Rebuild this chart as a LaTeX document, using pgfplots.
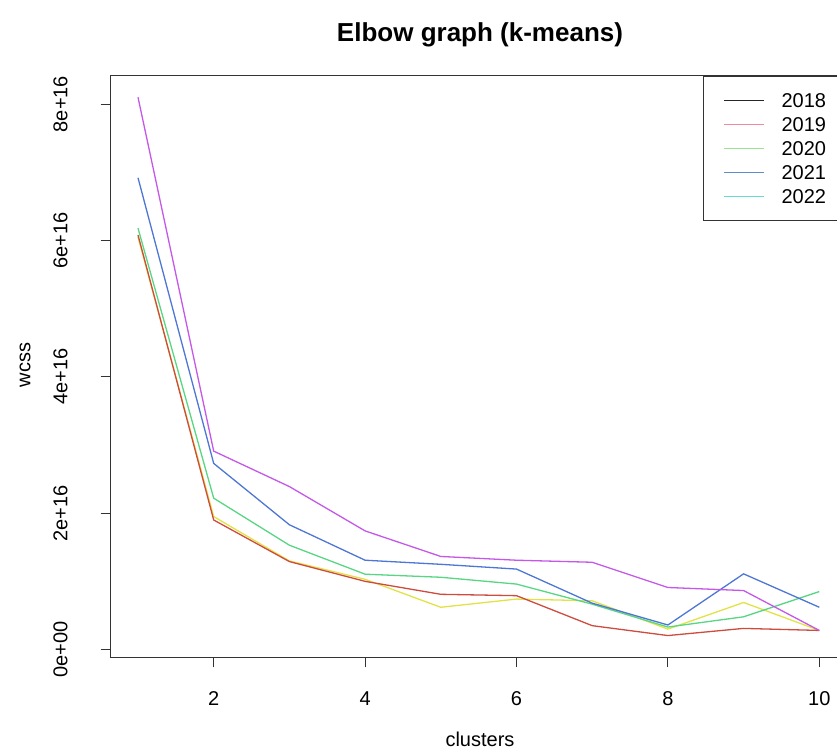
\documentclass[border=0pt]{standalone}
\usepackage{fontspec}
\setmainfont{Liberation Sans}
\usepackage{pgfplots}
\usepackage{pgfplotstable}
\pgfplotsset{compat=1.18}

% wcss in units of 1e16, one column per drawn line
\pgfplotstableread{
k  mag   blu   grn   red   yel
1  8.10  6.92  6.18  6.08  6.05
2  2.91  2.73  2.22  1.90  1.95
3  2.39  1.83  1.53  1.29  1.30
4  1.74  1.31  1.105 1.00  1.03
5  1.365 1.25  1.06  0.81  0.62
6  1.31  1.18  0.96  0.79  0.74
7  1.28  0.68  0.665 0.35  0.715
8  0.91  0.36  0.33  0.205 0.30
9  0.865 1.11  0.48  0.31  0.69
10 0.28  0.62  0.85  0.28  0.28
}\wcss

\definecolor{lmag}{RGB}{196,88,232}
\definecolor{lblu}{RGB}{78,118,212}
\definecolor{lgrn}{RGB}{88,214,132}
\definecolor{lred}{RGB}{206,76,62}
\definecolor{lyel}{RGB}{226,226,72}
\definecolor{g19}{RGB}{236,140,160}
\definecolor{g20}{RGB}{150,228,150}
\definecolor{g21}{RGB}{92,140,204}
\definecolor{g22}{RGB}{100,220,210}

\begin{document}
\begin{tikzpicture}[x=1pt,y=1pt,trim left=0pt,trim right=837pt]
\path (0,0) rectangle (837,749);
\begin{axis}[
  at={(146.3,134.3)}, anchor=south west,
  scale only axis, width=735.8pt, height=581.7pt,
  xmin=0.64, xmax=10.36, ymin=-0.116, ymax=8.416,
  axis line style={black!80, line width=1pt},
  tick style={black!80, line width=1pt},
  tick align=outside, major tick length=10pt,
  xtick pos=bottom, ytick pos=left,
  xtick={2,4,6,8,10}, ytick={0,2,4,6,8},
  yticklabels={0e+00,2e+16,4e+16,6e+16,8e+16},
  /pgf/number format/assume math mode=true,
  ticklabel style={font=\fontsize{20}{24}\selectfont, inner sep=0pt},
  xticklabel style={anchor=north},
  yticklabel style={rotate=90, anchor=south},
  xticklabel shift=24pt, yticklabel shift=33pt,
  legend image code/.code={\draw[#1] (0pt,0pt) -- (40pt,0pt);},
  legend style={at={(rel axis cs:1,1)}, anchor=north east,
    draw=black!80, line width=1pt, fill=white,
    font=\fontsize{20}{24}\selectfont,
    inner xsep=20pt, inner ysep=16.5pt, row sep=9pt, column sep=17pt,
    nodes={inner sep=0pt, text height=15pt, text depth=0pt},
    cells={anchor=west}},
]
\addlegendimage{black!85, line width=1pt}\addlegendentry{2018}
\addlegendimage{g19, line width=1pt}\addlegendentry{2019}
\addlegendimage{g20, line width=1pt}\addlegendentry{2020}
\addlegendimage{g21, line width=1pt}\addlegendentry{2021}
\addlegendimage{g22, line width=1pt}\addlegendentry{2022}
\addplot[lyel, line width=1.3pt, forget plot] table[x=k, y=yel] {\wcss};
\addplot[lred, line width=1.3pt, forget plot] table[x=k, y=red] {\wcss};
\addplot[lgrn, line width=1.3pt, forget plot] table[x=k, y=grn] {\wcss};
\addplot[lblu, line width=1.3pt, forget plot] table[x=k, y=blu] {\wcss};
\addplot[lmag, line width=1.3pt, forget plot] table[x=k, y=mag] {\wcss};
\end{axis}
\node[font=\bfseries\fontsize{26}{30}\selectfont] at (480,714) {Elbow graph (k-means)};
\node[font=\fontsize{20}{24}\selectfont] at (480,10) {clusters};
\node[rotate=90, font=\fontsize{20}{24}\selectfont] at (25,384) {wcss};
\end{tikzpicture}
\end{document}
